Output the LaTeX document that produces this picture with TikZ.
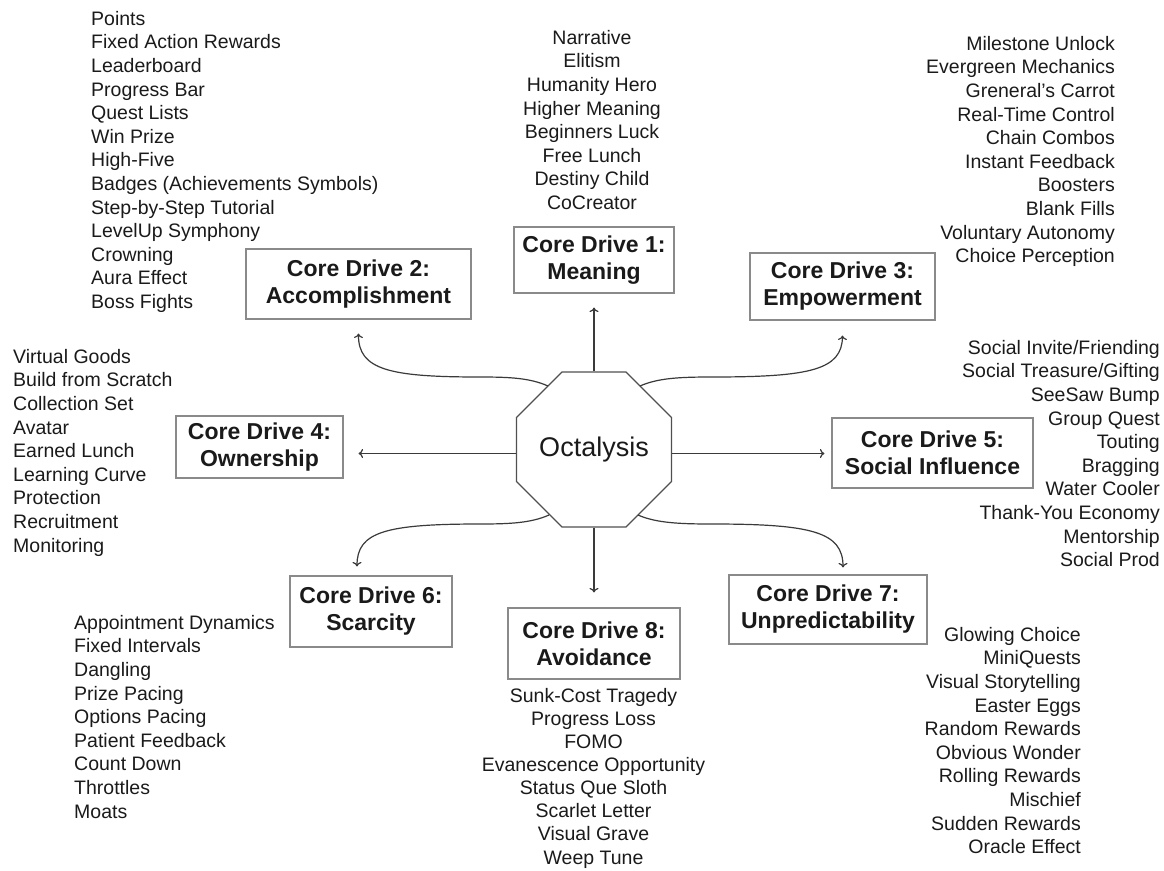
\documentclass[tikz,border=0pt]{standalone}
\usepackage{fontspec}
\setmainfont{Liberation Sans}
\usetikzlibrary{shapes.geometric,arrows.meta}
\definecolor{boxline}{HTML}{8A8A8A}
\definecolor{octline}{HTML}{505050}
\definecolor{arrline}{HTML}{3A3A3A}
\definecolor{txt}{HTML}{1A1A1A}
\begin{document}
\begin{tikzpicture}[x=1pt,y=-1pt,
  drive/.style={draw=boxline, line width=1.1pt, fill=white, align=center,
    font=\fontsize{23}{27}\selectfont\bfseries, inner sep=0pt, text=txt},
  items/.style={align=#1, font=\fontsize{19.5}{23.6}\selectfont, inner sep=0pt, text=txt},
  arr/.style={draw=arrline, line width=1.2pt, -{To[length=4.5pt,width=9pt]}},
]
\useasboundingbox (0,0) rectangle (1164,870);

% centre
\node[regular polygon, regular polygon sides=8, minimum size=165.6pt,
  draw=octline, line width=1.3pt, inner sep=0pt,
  font=\fontsize{27}{32}\selectfont, text=txt] (oct) at (594,449.5) {Octalysis};

% core drive boxes
\node[drive, minimum width=160pt, minimum height=66pt] (b1) at (594,260) {Core Drive 1:\\Meaning};
\node[drive, minimum width=225pt, minimum height=70pt] (b2) at (358.5,284) {Core Drive 2:\\Accomplishment};
\node[drive, minimum width=185pt, minimum height=67pt] (b3) at (842.5,286.5) {Core Drive 3:\\Empowerment};
\node[drive, minimum width=167pt, minimum height=62pt] (b4) at (259.5,447) {Core Drive 4:\\Ownership};
\node[drive, minimum width=201pt, minimum height=70pt] (b5) at (932.5,453) {Core Drive 5:\\Social Influence};
\node[drive, minimum width=162pt, minimum height=71pt] (b6) at (371,611.5) {Core Drive 6:\\Scarcity};
\node[drive, minimum width=198pt, minimum height=69pt] (b7) at (828,609.5) {Core Drive 7:\\Unpredictability};
\node[drive, minimum width=172pt, minimum height=71pt] (b8) at (594,643.5) {Core Drive 8:\\Avoidance};

% item lists
\node[items=center, anchor=north] (l1) at (592,27.5) {\strut Narrative\\Elitism\\Humanity Hero\\Higher Meaning\\Beginners Luck\\Free Lunch\\Destiny Child\\CoCreator};
\node[items=left, anchor=north west] (l2) at (91,8.5) {\strut Points\\Fixed Action Rewards\\Leaderboard\\Progress Bar\\Quest Lists\\Win Prize\\High-Five\\Badges (Achievements Symbols)\\Step-by-Step Tutorial\\LevelUp Symphony\\Crowning\\Aura Effect\\Boss Fights};
\node[items=right, anchor=north east] (l3) at (1115,33.5) {\strut Milestone Unlock\\Evergreen Mechanics\\Greneral’s Carrot\\Real-Time Control\\Chain Combos\\Instant Feedback\\Boosters\\Blank Fills\\Voluntary Autonomy\\Choice Perception};
\node[items=left, anchor=north west] (l4) at (13,346.5) {\strut Virtual Goods\\Build from Scratch\\Collection Set\\Avatar\\Earned Lunch\\Learning Curve\\Protection\\Recruitment\\Monitoring};
\node[items=right, anchor=north east] (l5) at (1160,337.5) {\strut Social Invite/Friending\\Social Treasure/Gifting\\SeeSaw Bump\\Group Quest\\Touting\\Bragging\\Water Cooler\\Thank-You Economy\\Mentorship\\Social Prod};
\node[items=left, anchor=north west] (l6) at (74,612.5) {\strut Appointment Dynamics\\Fixed Intervals\\Dangling\\Prize Pacing\\Options Pacing\\Patient Feedback\\Count Down\\Throttles\\Moats};
\node[items=right, anchor=north east] (l7) at (1081,624.5) {\strut Glowing Choice\\MiniQuests\\Visual Storytelling\\Easter Eggs\\Random Rewards\\Obvious Wonder\\Rolling Rewards\\Mischief\\Sudden Rewards\\Oracle Effect};
\node[items=center, anchor=north, font=\fontsize{19.5}{23.1}\selectfont] (l8) at (593.5,686) {\strut Sunk-Cost Tragedy\\Progress Loss\\FOMO\\Evanescence Opportunity\\Status Que Sloth\\Scarlet Letter\\Visual Grave\\Weep Tune};

% straight connectors
\draw[arr, shorten >=14pt] (oct.north) -- (oct.north |- b1.south);
\draw[arr, shorten >=15pt] (oct.south) -- (oct.south |- b8.north);
\draw[arr, shorten >=15pt] ([yshift=-4pt]oct.west) -- ([yshift=-4pt]oct.west -| b4.east);
\draw[arr, shorten >=7pt] ([yshift=-4pt]oct.east) -- ([yshift=-4pt]oct.east -| b5.west);

% curved connectors
\coordinate (s2) at (548,386);
\coordinate (s3) at (640,386);
\coordinate (s6) at (549,515);
\coordinate (s7) at (638,515);
\coordinate (e2) at ([yshift=-14pt]b2.south);
\coordinate (e3) at ([yshift=-15pt]b3.south);
\coordinate (e6) at ([xshift=-14pt,yshift=9pt]b6.north);
\coordinate (e7) at ([xshift=15pt,yshift=7pt]b7.north);

\draw[arr] (s2) .. controls (530,378) and (510,377) .. (480,377)
  .. controls (390,377) and (358,370) .. (e2);
\draw[arr] (s3) .. controls (658,378) and (680,377) .. (712,377)
  .. controls (810,377) and (842,370) .. (e3);
\draw[arr] (s6) .. controls (531,523) and (510,524) .. (480,524)
  .. controls (385,524) and (357,532) .. (e6);
\draw[arr] (s7) .. controls (656,523) and (680,524) .. (712,524)
  .. controls (812,524) and (843,532) .. (e7);
\end{tikzpicture}
\end{document}
